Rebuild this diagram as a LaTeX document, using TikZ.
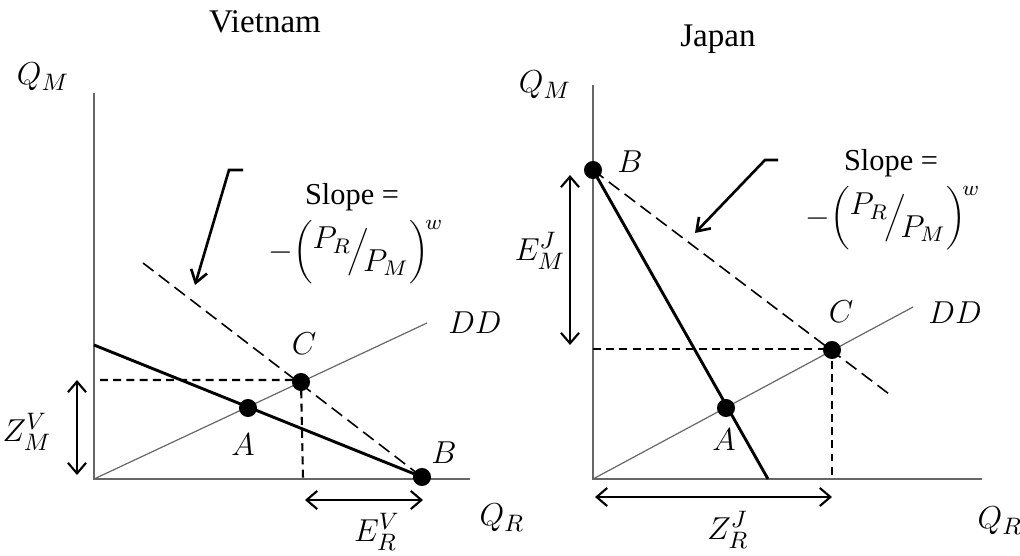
\documentclass[tikz,border=0pt]{standalone}
\usepackage{fontspec}
\setmainfont{Liberation Serif}
\usetikzlibrary{arrows.meta}
\newcommand{\slopefrac}{$-\biggl({}^{\textstyle P_R}\!\Big/\!{}_{\textstyle P_M}\biggr)^{\!w}$}

\begin{document}
\begin{tikzpicture}[x=0.133mm, y=-0.133mm, font=\fontsize{12.5}{15}\selectfont,
    axis/.style={draw=black!60, line width=0.8pt},
    ddline/.style={draw=black!60, line width=0.45pt},
    budget/.style={draw=black, line width=1.1pt},
    slopeline/.style={draw=black, line width=0.6pt, dash pattern=on 5pt off 2.5pt},
    guide/.style={draw=black, line width=0.8pt, dash pattern=on 3pt off 2pt},
    dot/.style={circle, fill=black, inner sep=0pt, minimum size=2.4mm},
    span/.style={line width=0.8pt, {Straight Barb[length=1.4mm,width=2.4mm]}-{Straight Barb[length=1.4mm,width=2.4mm]}},
    callout/.style={line width=1pt, -{Straight Barb[length=1.6mm,width=2.2mm]}},
    title/.style={font=\fontsize{12.5}{15}\selectfont},
    note/.style={font=\fontsize{11.5}{14}\selectfont, inner sep=1pt}]
  \useasboundingbox (0,0) rectangle (1020,555);

  % Vietnam
  \node[title] (vtitle) at (265,22) {Vietnam};
  \coordinate (vO) at (94,479);
  \coordinate (vtop) at (94,93);
  \coordinate (vright) at (470,479);
  \coordinate (vdd) at (427,323);
  \coordinate (vbud) at (94,345);
  \coordinate (vsl) at (143,263);
  \coordinate (vhy) at (100,380);
  \coordinate (vhx) at (303,479);
  \draw[axis] (vtop) -- (vO) -- (vright);
  \draw[ddline] (vO) -- (vdd);
  \draw[guide] (vhy) -- (301,380) -- (vhx);
  \draw[slopeline] (vsl) -- (422,477);
  \draw[budget] (vbud) -- (422,477);
  \node[dot] (vA) at (248,408) {};
  \node[dot] (vC) at (301,382) {};
  \node[dot] (vB) at (422,477) {};
  \node (vQM) at (43,77) {$Q_M$};
  \node (vQR) at (502,518) {$Q_R$};
  \node (vDD) at (475,323) {$DD$};
  \node (vAl) at (243,445) {$A$};
  \node (vCl) at (304,344) {$C$};
  \node (vBl) at (444,453) {$B$};
  \coordinate (vz1) at (77,380);
  \coordinate (vz2) at (77,475);
  \draw[span] (vz1) -- (vz2);
  \node (vZ) at (27,432) {$Z_M^V$};
  \coordinate (ve1) at (305,500);
  \coordinate (ve2) at (423,500);
  \draw[span] (ve1) -- (ve2);
  \node (vE) at (377,532) {$E_R^V$};
  \coordinate (vk1) at (243,170);
  \coordinate (vk2) at (229,170);
  \coordinate (vk3) at (195,285);
  \draw[callout] (vk1) -- (vk2) -- (vk3);
  \node[note] (vslope) at (352,197) {Slope =};
  \node[note] (vfrac) at (356,252) {\slopefrac};

  % Japan
  \node[title] (jtitle) at (718,39) {Japan};
  \coordinate (jO) at (593,479);
  \coordinate (jtop) at (593,85);
  \coordinate (jright) at (982,479);
  \coordinate (jdd) at (913,307);
  \coordinate (jbud) at (768,479);
  \coordinate (jsl) at (893,397);
  \coordinate (jhy) at (593,349);
  \coordinate (jhx) at (832,479);
  \draw[axis] (jtop) -- (jO) -- (jright);
  \draw[ddline] (jO) -- (jdd);
  \draw[guide] (jhy) -- (832,349) -- (jhx);
  \draw[slopeline] (593,170) -- (jsl);
  \draw[budget] (593,170) -- (jbud);
  \node[dot] (jA) at (726,408) {};
  \node[dot] (jC) at (832,350) {};
  \node[dot] (jB) at (593,170) {};
  \node (jQM) at (545,85) {$Q_M$};
  \node (jQR) at (1000,521) {$Q_R$};
  \node (jDD) at (955,313) {$DD$};
  \node (jAl) at (724,440) {$A$};
  \node (jCl) at (841,312) {$C$};
  \node (jBl) at (630,162) {$B$};
  \coordinate (je1) at (570,345);
  \coordinate (je2) at (570,175);
  \draw[span] (je1) -- (je2);
  \node (jE) at (540,251) {$E_M^J$};
  \coordinate (jz1) at (595,497);
  \coordinate (jz2) at (832,497);
  \draw[span] (jz1) -- (jz2);
  \node (jZ) at (728,530) {$Z_R^J$};
  \coordinate (jk1) at (778,160);
  \coordinate (jk2) at (765,160);
  \coordinate (jk3) at (695,233);
  \draw[callout] (jk1) -- (jk2) -- (jk3);
  \node[note] (jslope) at (891,163) {Slope =};
  \node[note] (jfrac) at (893,218) {\slopefrac};
\end{tikzpicture}
\end{document}
